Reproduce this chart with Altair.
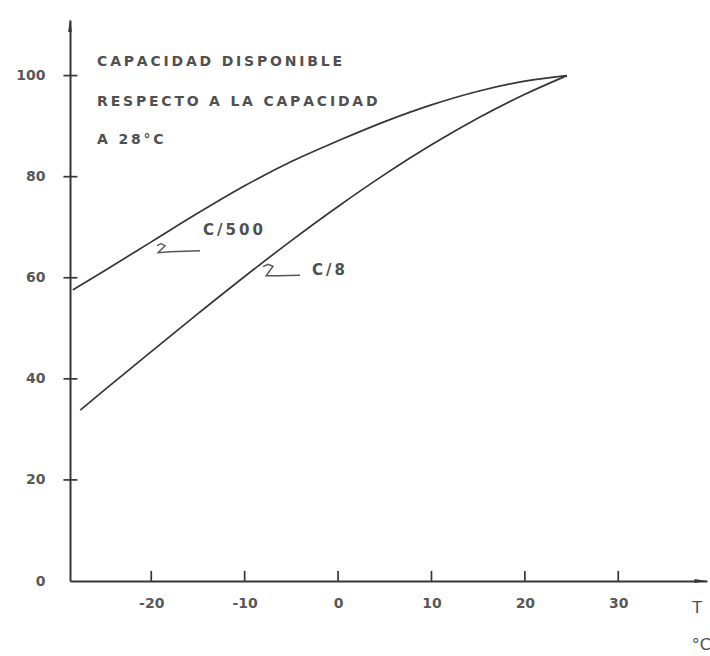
import altair as alt
import pandas as pd

# Available capacity (% of capacity at 28 °C) versus temperature, per discharge rate
temp_c500 = [-28.4, -25, -20, -15, -10, -5, 0, 5, 10, 15, 20, 24.5]
cap_c500 = [57.6, 61.4, 67.1, 72.8, 78.2, 83.0, 87.1, 90.9, 94.2, 96.9, 98.9, 100]
temp_c8 = [-27.6, -25, -20, -15, -10, -5, 0, 5, 10, 15, 20, 24.5]
cap_c8 = [33.8, 37.8, 45.4, 52.9, 60.25, 67.35, 74.1, 80.45, 86.3, 91.6, 96.3, 100]

y_ticks = [0, 20, 40, 60, 80, 100]
x_ticks = [-20, -10, 0, 10, 20, 30]

title_lines = ["CAPACIDAD DISPONIBLE", "RESPECTO A LA CAPACIDAD", "A 28°C"]
series_names = ["C/500", "C/8"]

X_MIN, X_MAX = -28.7, 39.5
Y_MIN, Y_MAX = 0, 111

INK = "#363636"
TEXT = "#505050"
FONT = "DejaVu Sans"


def spaced(s):
    # hand-lettered look: a thin space between letters
    return "\u2009".join(s)


curves = pd.concat([
    pd.DataFrame({"t": temp_c500, "cap": cap_c500, "rate": "C/500"}),
    pd.DataFrame({"t": temp_c8, "cap": cap_c8, "rate": "C/8"}),
])

xs = alt.Scale(domain=[X_MIN, X_MAX], nice=False, zero=False)
ys = alt.Scale(domain=[Y_MIN, Y_MAX], nice=False, zero=False)

x_axis = alt.Axis(values=x_ticks, tickSize=0, labelPadding=15, grid=False,
                  domainColor=INK, domainWidth=2, labelFont=FONT, labelFontSize=14,
                  labelFontWeight="bold", labelColor="#585858",
                  labelExpr="replace(datum.label, '\u2212', '-')", title=None)
y_axis = alt.Axis(values=y_ticks, tickSize=0, labelPadding=25, grid=False,
                  domainColor=INK, domainWidth=2, labelFont=FONT, labelFontSize=14,
                  labelFontWeight="bold", labelColor="#585858", title=None)

lines = alt.Chart(curves).mark_line(
    color=INK, strokeWidth=1.7, interpolate="monotone"
).encode(
    x=alt.X("t:Q", scale=xs, axis=x_axis),
    y=alt.Y("cap:Q", scale=ys, axis=y_axis),
    detail="rate:N",
)

# tick marks crossing the vertical axis
yt = pd.DataFrame({"v": y_ticks[1:], "a": X_MIN - 0.7, "b": X_MIN + 0.8})
y_tick_marks = alt.Chart(yt).mark_rule(strokeWidth=1.7, color=INK).encode(
    x=alt.X("a:Q", scale=xs), x2="b:Q", y=alt.Y("v:Q", scale=ys)
)

# short ticks standing on the horizontal axis
xt = pd.DataFrame({"v": x_ticks, "a": 0.0, "b": 2.0})
x_tick_marks = alt.Chart(xt).mark_rule(strokeWidth=1.7, color=INK).encode(
    x=alt.X("v:Q", scale=xs), y=alt.Y("a:Q", scale=ys), y2="b:Q"
)

# arrow heads at the ends of both axes
up = pd.DataFrame({"t": [X_MIN], "c": [Y_MAX - 1.2]})
arrow_up = alt.Chart(up).mark_point(
    shape="M0,-1L0.28,0.9L-0.28,0.9Z", filled=True, size=180, opacity=1, color=INK
).encode(x=alt.X("t:Q", scale=xs), y=alt.Y("c:Q", scale=ys))
right = pd.DataFrame({"t": [X_MAX - 0.7], "c": [Y_MIN]})
arrow_right = alt.Chart(right).mark_point(
    shape="M1,0L-0.9,0.28L-0.9,-0.28Z", filled=True, size=180, opacity=1, color=INK
).encode(x=alt.X("t:Q", scale=xs), y=alt.Y("c:Q", scale=ys))

# explanatory note in the upper-left corner
note = pd.DataFrame({
    "t": [-25.8, -25.8, -25.8],
    "c": [102.6, 94.8, 87.2],
    "txt": [spaced(s) for s in title_lines],
})
note_text = alt.Chart(note).mark_text(
    align="left", baseline="middle", font=FONT, fontSize=14, fontWeight="bold",
    color=TEXT
).encode(x=alt.X("t:Q", scale=xs), y=alt.Y("c:Q", scale=ys), text="txt:N")

# curve labels
lab = pd.DataFrame({
    "t": [-14.45, -2.78],
    "c": [69.5, 61.6],
    "txt": [spaced(s) for s in series_names],
})
lab_text = alt.Chart(lab).mark_text(
    align="left", baseline="middle", font=FONT, fontSize=15, fontWeight="bold",
    color=TEXT
).encode(x=alt.X("t:Q", scale=xs), y=alt.Y("c:Q", scale=ys), text="txt:N")

# leader strokes from each label to its curve
leaders = pd.DataFrame({
    "t": [-19.38, -18.95, -18.52, -19.27, -17.99, -14.78,
          -8.03, -7.49, -6.96, -7.71, -6.53, -4.07],
    "c": [66.34, 66.73, 66.34, 64.95, 65.15, 65.35,
          62.18, 62.67, 62.28, 60.40, 60.40, 60.50],
    "rate": ["C/500"] * 6 + ["C/8"] * 6,
    "i": list(range(6)) * 2,
})
leader_lines = alt.Chart(leaders).mark_line(
    color="#555", strokeWidth=1.4, interpolate="linear"
).encode(
    x=alt.X("t:Q", scale=xs), y=alt.Y("c:Q", scale=ys),
    detail="rate:N", order="i:Q",
)

# axis name below the arrow of the temperature axis
unit = pd.DataFrame({"t": [38.44, 38.9], "c": [-5.3, -12.7], "txt": ["T", "°C"]})
unit_text = alt.Chart(unit).mark_text(
    align="center", baseline="middle", font=FONT, fontSize=16, color=TEXT
).encode(x=alt.X("t:Q", scale=xs), y=alt.Y("c:Q", scale=ys), text="txt:N")

chart = alt.layer(
    lines, y_tick_marks, x_tick_marks, arrow_up, arrow_right,
    note_text, lab_text, leader_lines, unit_text,
).properties(
    width=637, height=561,
    autosize=alt.AutoSizeParams(type="none"),
    padding={"left": 70, "top": 20, "right": 3, "bottom": 75},
    background="white",
).configure_view(stroke=None)

chart.save("out.html", embed_options={"renderer": "svg", "actions": False})
